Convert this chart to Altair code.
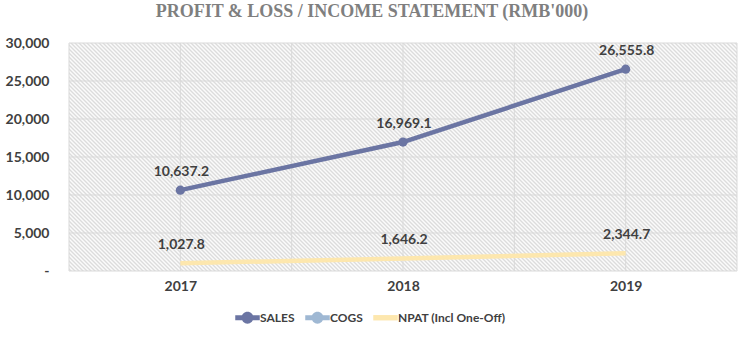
import altair as alt
import pandas as pd

# ---- data ----
years = [2017, 2018, 2019]
sales = [10637.2, 16969.1, 26555.8]
npat = [1027.8, 1646.2, 2344.7]
series_names = ["SALES", "COGS", "NPAT (Incl One-Off)"]
series_colors = ["#6b75a3", "#9fb8d3", "#fde7ae"]
y_ticks = [0, 5000, 10000, 15000, 20000, 25000, 30000]
x_grid = [2016.5, 2017, 2017.5, 2018, 2018.5, 2019, 2019.5]
title_text = "PROFIT & LOSS / INCOME STATEMENT (RMB'000)"

W, H = 668, 228

rows = []
for yr, s, n in zip(years, sales, npat):
    rows.append({"year": yr, "series": "SALES", "value": s})
    rows.append({"year": yr, "series": "NPAT (Incl One-Off)", "value": n})
df = pd.DataFrame(rows)

# ---- styling ----
TXT = "#404040"
GRID = "#d9d9d9"
xscale = alt.Scale(domain=[x_grid[0], x_grid[-1]], nice=False, zero=False)
yscale = alt.Scale(domain=[y_ticks[0], y_ticks[-1]], nice=False)

nb = "\u00a0" * 8
x_axis = alt.Axis(values=years, format="d", labelFont="Lato", labelFontSize=14,
                  labelFontWeight="bold", labelColor=TXT, labelPadding=8,
                  domain=False, ticks=False, grid=False, title=None)
y_axis = alt.Axis(values=y_ticks,
                  labelExpr="datum.value === 0 ? '-" + nb + "' : format(datum.value, ',')",
                  labelFont="Lato", labelFontSize=14, labelFontWeight="bold",
                  labelColor=TXT, labelPadding=20, domain=False, ticks=False,
                  grid=False, title=None)

# hatch: soft diagonal stripes as a gradient fill (period 4px)
s = H / W
k = (1 + s) / (1 + s * s)
N = (W + H) // 4
stops = []
for i in range(N):
    stops.append({"offset": i / N, "color": "#fbfbfb"})
    stops.append({"offset": (i + 0.5) / N, "color": "#dcdcdc"})
stops.append({"offset": 1, "color": "#fbfbfb"})
grad = {"gradient": "linear", "x1": 0, "y1": 1, "x2": k, "y2": 1 - k * s, "stops": stops}

hatch = alt.Chart(pd.DataFrame({"a": [0]})).mark_rect(fill=grad).encode(
    x=alt.X(datum=x_grid[0], type="quantitative", scale=xscale, axis=x_axis),
    x2=alt.X2(datum=x_grid[-1]),
    y=alt.Y(datum=y_ticks[0], type="quantitative", scale=yscale, axis=y_axis),
    y2=alt.Y2(datum=y_ticks[-1]),
)

ygrid = alt.Chart(pd.DataFrame({"v": y_ticks})).mark_rule(color=GRID, strokeWidth=1).encode(
    y=alt.Y("v:Q", scale=yscale, axis=y_axis)
)
xgrid = alt.Chart(pd.DataFrame({"v": x_grid})).mark_rule(color=GRID, strokeWidth=1).encode(
    x=alt.X("v:Q", scale=xscale, axis=x_axis)
)

base = alt.Chart(df).encode(
    x=alt.X("year:Q", scale=xscale, axis=x_axis),
    y=alt.Y("value:Q", scale=yscale, axis=y_axis),
)
sales_line = base.transform_filter(alt.datum.series == "SALES").mark_line(
    strokeWidth=4.5, strokeCap="butt", color=series_colors[0])
npat_line = base.transform_filter(alt.datum.series == "NPAT (Incl One-Off)").mark_line(
    strokeWidth=4.5, strokeCap="butt", color=series_colors[2])
points = base.transform_filter(alt.datum.series == "SALES").mark_circle(
    size=85, opacity=1, color=series_colors[0])
labels = base.mark_text(dy=-18, dx=1, font="Lato", fontSize=14, fontWeight="bold",
                        color=TXT).encode(text=alt.Text("value:Q", format=",.1f"))

# legend (built from the explicit scale domain; draws no marks)
path_lc = ("M-1,-0.2L1,-0.2L1,0.2L-1,0.2Z "
           "M0.48,0A0.48,0.48 0 1,1 -0.48,0A0.48,0.48 0 1,1 0.48,0Z")
path_l = "M-1,-0.22L1,-0.22L1,0.22L-1,0.22Z"
legend = alt.Legend(
    orient="none", legendX=166, legendY=262, direction="horizontal", title=None,
    symbolSize=600, symbolStrokeWidth=0, symbolOpacity=1,
    labelFont="Lato", labelFontSize=12, labelFontWeight="bold", labelColor=TXT,
    labelOffset=0, columnPadding=10, padding=0,
)
legend_layer = alt.Chart(pd.DataFrame({"series": series_names})).transform_filter(
    "false").mark_point(filled=True, opacity=1).encode(
    color=alt.Color("series:N", scale=alt.Scale(domain=series_names, range=series_colors),
                    legend=legend),
    shape=alt.Shape("series:N", scale=alt.Scale(domain=series_names,
                                                range=[path_lc, path_lc, path_l]),
                    legend=legend),
)

chart = alt.layer(hatch, ygrid, xgrid, npat_line, sales_line, points, labels,
                  legend_layer).properties(
    width=W, height=H,
    padding={"left": 69, "top": 43, "right": 7, "bottom": 66},
    autosize=alt.AutoSizeParams(type="none"),
    background="white",
    title=alt.TitleParams(text=title_text, font="Liberation Serif", fontSize=18,
                          fontWeight="bold", color="#7f7f7f", anchor="middle",
                          dx=-31, offset=15),
).configure_view(stroke=None)

chart.save("out.html", embed_options={"renderer": "svg", "actions": False})
